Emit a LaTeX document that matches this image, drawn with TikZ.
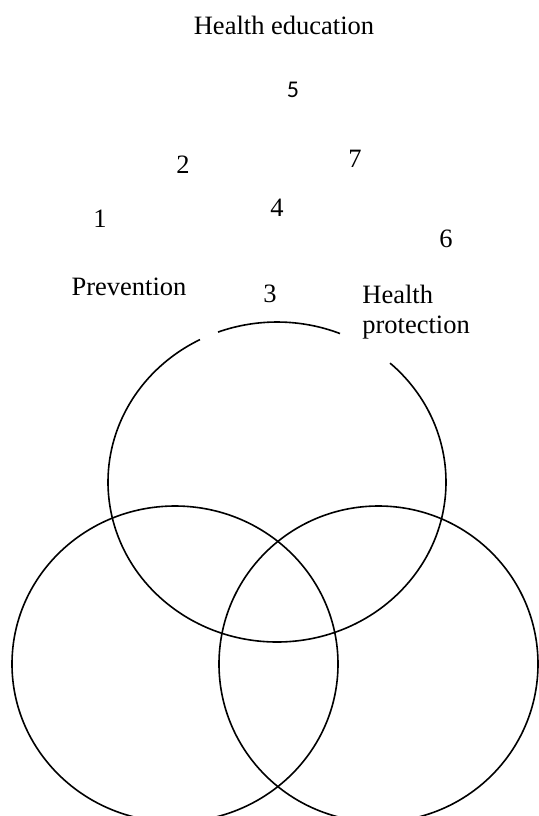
\documentclass[tikz,border=0pt]{standalone}
\usepackage{fontspec}
\setmainfont{Liberation Serif}
\newfontfamily\numfont{Carlito}
\usepackage{tikz}
\usetikzlibrary{positioning}
\tikzset{
  ring/.style={draw=black, line width=0.8pt},
  lab/.style={text=black, inner sep=0pt, font=\fontsize{13.25}{15}\selectfont},
  labs/.style={text=black, inner sep=0pt, font=\numfont\fontsize{12}{14}\selectfont},
}

\begin{document}
\begin{tikzpicture}[x=0.5pt,y=-0.5pt]
  \useasboundingbox (0,0) rectangle (538,816);
  \coordinate (T) at (277,482);
  \coordinate (L) at (175,664);
  \coordinate (R) at (378.5,664);

  % top ring, broken where the labels sit
  \draw[ring] (T) ++(249.6:169 and 160) arc[start angle=249.6, end angle=291.9, x radius=169, y radius=160];
  \draw[ring] (T) ++(312:169 and 160) arc[start angle=312, end angle=602.9, x radius=169, y radius=160];
  \draw[ring] (L) circle[x radius=163, y radius=158];
  \draw[ring] (R) circle[x radius=159.5, y radius=158];

  \node[lab] (hedu) at (284,25.5) {Health education};
  \node[lab] (prev) at (129,286.5) {Prevention};
  \node[lab, align=left, anchor=base west] (hprot) at (362,333) {Health\\protection};

  \node[lab] (n1) at (100,219) {1};
  \node[lab] (n2) at (183,165) {2};
  \node[lab] (n3) at (270,293.5) {3};
  \node[lab] (n4) at (277,207.5) {4};
  \node[labs] (n5) at (293,90) {5};
  \node[lab] (n6) at (446,238.5) {6};
  \node[lab] (n7) at (355,159) {7};
\end{tikzpicture}
\end{document}
